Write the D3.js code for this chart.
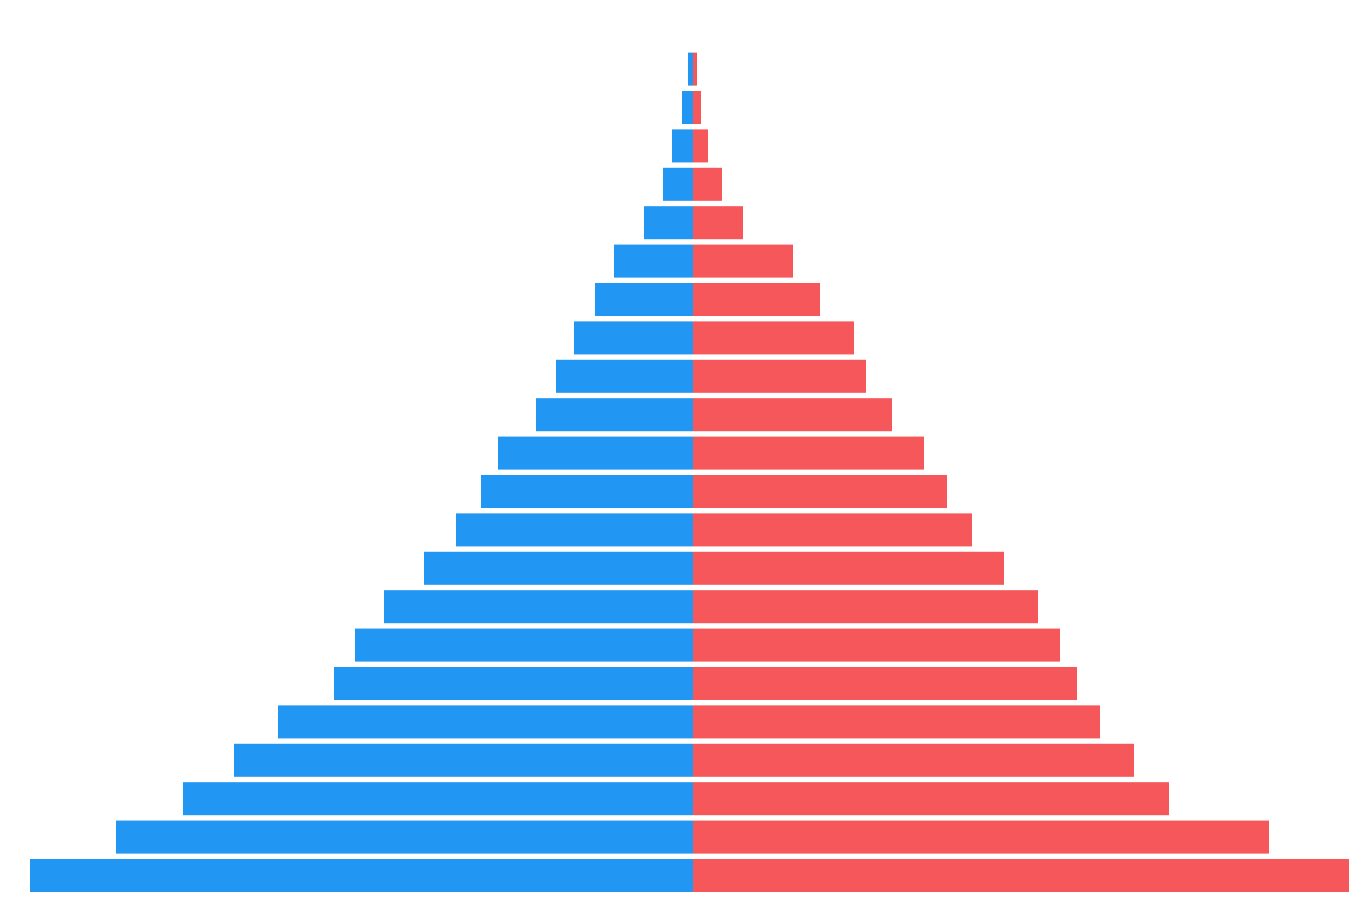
<!DOCTYPE html>
<html>
<head>
<meta charset="utf-8">
<script src="https://cdn.jsdelivr.net/npm/d3@7"></script>
<style>
  html, body { margin: 0; padding: 0; background: #fff; }
  svg { display: block; }
</style>
</head>
<body>
<svg id="chart" width="1366" height="899"></svg>
<script>
// Age groups, top (oldest) to bottom (youngest)
const categories = ["105+","100-104","95-99","90-94","85-89","80-84","75-79","70-74","65-69","60-64","55-59",
  "50-54","45-49","40-44","35-39","30-34","25-29","20-24","15-19","10-14","5-9","0-4"];
const male =   [5, 11, 21, 30, 49, 79, 98, 119, 137, 157, 195, 212, 237, 269, 309, 338, 359, 415, 459, 510, 577, 663];
const female = [4, 8, 15, 29, 50, 100, 127, 161, 173, 199, 231, 254, 279, 311, 345, 367, 384, 407, 441, 476, 576, 656];

const svg = d3.select("#chart");
const maxVal = d3.max([...male, ...female]);

const x = d3.scaleLinear().domain([-maxVal, maxVal]).range([30, 1356]);
const y = d3.scaleBand().domain(categories).range([52.6, 892]).paddingInner(0.14).paddingOuter(0);

const blue = "#2196f3";
const red = "#f5575a";

svg.append("g").selectAll("rect")
  .data(categories.map((c, i) => ({c, v: male[i]})))
  .join("rect")
  .attr("x", d => x(-d.v))
  .attr("width", d => x(0) - x(-d.v))
  .attr("y", d => y(d.c))
  .attr("height", y.bandwidth())
  .attr("fill", blue);

svg.append("g").selectAll("rect")
  .data(categories.map((c, i) => ({c, v: female[i]})))
  .join("rect")
  .attr("x", x(0))
  .attr("width", d => x(d.v) - x(0))
  .attr("y", d => y(d.c))
  .attr("height", y.bandwidth())
  .attr("fill", red);
</script>
</body>
</html>
